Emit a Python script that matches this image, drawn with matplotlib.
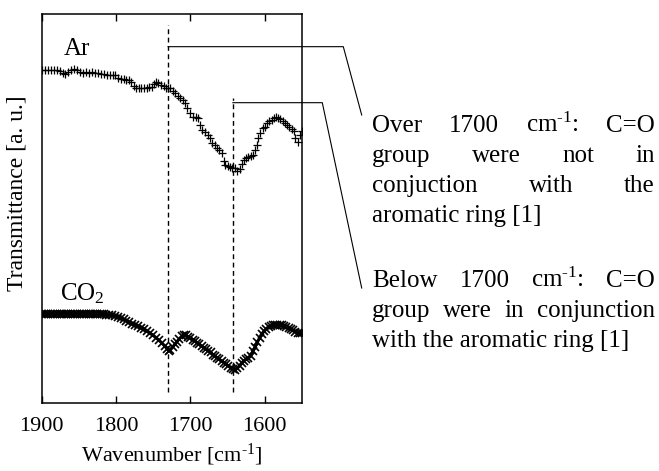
import matplotlib
matplotlib.use("Agg")
from matplotlib import pyplot as plt
from matplotlib.lines import Line2D

plt.rcParams['font.family'] = ['Liberation Serif', 'DejaVu Serif']
plt.rcParams['mathtext.fontset'] = 'custom'
plt.rcParams['mathtext.rm'] = 'Liberation Serif'
plt.rcParams['mathtext.it'] = 'Liberation Serif:italic'

# FTIR spectra (transmittance, arbitrary units, curves offset)
ar_wn = [1900, 1896, 1892, 1888, 1884, 1880, 1875, 1871, 1868, 1864, 1860, 1856, 1852,
         1848, 1844, 1840, 1836, 1832, 1828, 1824, 1820, 1816, 1812, 1808, 1804, 1801,
         1797, 1793, 1790, 1786, 1783, 1780, 1776, 1773, 1769, 1766, 1762, 1759, 1756,
         1752, 1749, 1746, 1743, 1740, 1736, 1733, 1730, 1727, 1724, 1721, 1717, 1714,
         1710, 1707, 1704, 1700, 1697, 1693, 1690, 1687, 1684, 1681, 1677, 1674, 1671,
         1667, 1664, 1661, 1657, 1655, 1653, 1650, 1647, 1644, 1640, 1637, 1634, 1631,
         1628, 1625, 1622, 1619, 1616, 1613, 1611, 1609, 1606, 1603, 1600, 1597, 1594,
         1591, 1588, 1585, 1582, 1579, 1576, 1573, 1570, 1567, 1564, 1561, 1559, 1556,
         1553, 1550]
ar_t = [85.6, 85.6, 85.7, 85.6, 85.5, 85.6, 85.4, 84.9, 84.7, 85.2, 85.7, 85.9, 85.6,
        85.1, 84.8, 85.0, 84.9, 85.0, 84.8, 84.9, 84.7, 84.5, 84.4, 84.3, 84.3, 84.2,
        83.6, 83.4, 83.3, 83.1, 83.0, 82.4, 81.5, 81.0, 80.9, 81.0, 81.1, 81.1, 81.2,
        81.3, 81.9, 82.6, 82.3, 81.8, 81.5, 81.0, 81.1, 80.9, 80.3, 79.7, 79.0, 78.4,
        77.8, 77.1, 75.9, 74.6, 73.5, 73.6, 73.3, 71.4, 70.2, 69.6, 68.9, 68.0, 66.9,
        66.2, 65.6, 65.0, 64.3, 62.3, 61.2, 61.0, 60.7, 60.5, 60.4, 59.6, 60.2, 61.4,
        62.5, 62.9, 63.2, 63.5, 63.8, 65.0, 66.3, 68.2, 69.4, 70.6, 71.0, 71.9, 72.4,
        72.8, 73.3, 73.5, 73.3, 73.1, 72.6, 72.0, 71.5, 71.0, 70.5, 69.8, 68.2, 67.1,
        68.9, 69.9]

co2_wn = [1900, 1897, 1894, 1891, 1888, 1885, 1882, 1879, 1876, 1873, 1870, 1867, 1864,
          1861, 1858, 1855, 1852, 1849, 1846, 1843, 1840, 1837, 1834, 1831, 1828, 1825,
          1822, 1819, 1816, 1813, 1810, 1806, 1802, 1798, 1794, 1790, 1786, 1782, 1778,
          1774, 1770, 1766, 1762, 1758, 1754, 1750, 1746, 1742, 1738, 1734, 1731, 1729,
          1727, 1724, 1721, 1718, 1715, 1712, 1709, 1706, 1703, 1700, 1697, 1694, 1691,
          1688, 1685, 1682, 1679, 1676, 1673, 1670, 1667, 1664, 1661, 1658, 1655, 1652,
          1649, 1646, 1643, 1640, 1637, 1634, 1631, 1628, 1625, 1622, 1619, 1616, 1613,
          1610, 1607, 1604, 1601, 1598, 1595, 1592, 1589, 1586, 1583, 1580, 1577, 1574,
          1571, 1568, 1565, 1562, 1559, 1556, 1553, 1550]
co2_t = [22.9, 22.9, 22.9, 22.9, 22.9, 22.9, 22.9, 22.9, 22.9, 22.9, 22.9, 22.9, 22.9,
         22.9, 22.9, 22.9, 22.9, 22.9, 22.9, 22.9, 22.9, 22.9, 22.9, 22.9, 22.9, 22.9,
         22.9, 22.9, 22.8, 22.7, 22.6, 22.5, 22.4, 22.2, 21.9, 21.5, 21.1, 20.7, 20.4,
         20.1, 19.7, 19.3, 18.9, 18.4, 17.9, 17.4, 16.7, 16.1, 15.3, 14.6, 13.8, 13.4,
         13.7, 14.3, 15.1, 15.8, 16.5, 17.1, 17.5, 17.4, 17.0, 16.7, 16.3, 15.9, 15.5,
         15.1, 14.6, 14.2, 13.8, 13.4, 13.0, 12.4, 12.0, 11.6, 11.2, 10.8, 10.4, 10.0,
         9.5, 9.1, 8.7, 8.5, 8.9, 9.6, 10.3, 10.9, 11.3, 11.6, 12.0, 13.3, 14.4,
         15.7, 16.7, 17.7, 18.5, 19.1, 19.6, 19.9, 20.1, 20.1, 20.1, 20.1, 20.0, 19.8,
         19.5, 19.3, 19.0, 18.7, 18.3, 18.0, 18.0, 18.0]

peaks = [1730, 1643]
peak_tops = [97.2, 78.4]
leader_y = [91.6, 77.2]
xticks = [1900, 1800, 1700, 1600]

CM = "cm$^{\\mathregular{\u20101}}$"
notes = [
    [["Over", "1700", CM + ":", "C=O"],
     ["group", "were", "not", "in"],
     ["conjuction", "with", "the"],
     ["aromatic ring [1]"]],
    [["Below", "1700", CM + ":", "C=O"],
     ["group", "were", "in", "conjunction"],
     ["with the aromatic ring [1]"]],
]

W, H = 659, 471
fig = plt.figure(figsize=(W / 100, H / 100), dpi=100)
ax = fig.add_axes([41.7 / W, 1 - 403 / H, (302 - 41.7) / W, (403 - 14) / H])

ax.plot(ar_wn, ar_t, linestyle='none', marker='+', ms=6, mew=0.9, color='black')
ax.plot(co2_wn, co2_t, color='black', lw=2.2)
ax.plot(co2_wn, co2_t, linestyle='none', marker='x', ms=5.5, mew=1.2, color='black')

for xp, top in zip(peaks, peak_tops):
    ax.plot([xp, xp], [2.8, top], color='black', lw=1, linestyle=(0, (3.5, 2.5)))

ax.text(1871, 89.5, "Ar", fontsize=18)
ax.text(1875, 26.5, "CO$_\\mathregular{2}$", fontsize=18)

ax.set_xlim(1900, 1550)
ax.set_ylim(0, 100)
ax.set_xticks(xticks)
ax.set_yticks([])
ax.tick_params(axis='x', direction='in', top=True, length=5, width=1,
               labelsize=16, pad=10)
ax.set_xlabel("Wavenumber [" + CM + "]", fontsize=16)
ax.xaxis.set_label_coords(0.5, -0.1)
ax.set_ylabel("Transmittance [a. u.]", fontsize=17)
ax.yaxis.set_label_coords(-0.056, 0.54)
for s in ax.spines.values():
    s.set_linewidth(1.1)

# leader lines from the dashed markers to the notes
to_fig = fig.transFigure.inverted()
bends = [(343.3, 115), (322.3, 288)]
for xp, ly, (bx, ey) in zip(peaks, leader_y, bends):
    sx, sy = to_fig.transform(ax.transData.transform((xp, ly)))
    fig.add_artist(Line2D([sx, bx / W, 361.7 / W], [sy, sy, 1 - ey / H],
                          color='black', lw=0.8, transform=fig.transFigure))

# justified note text
renderer = fig.canvas.get_renderer()
x_left, x_right = 372, 655
baselines = [[132, 162, 192, 222], [287, 317, 347]]
for para, ys in zip(notes, baselines):
    for words, yb in zip(para, ys):
        txts = [fig.text(0, 1 - yb / H, w, fontsize=18, va='baseline') for w in words]
        widths = [t.get_window_extent(renderer).width for t in txts]
        if len(words) > 1:
            gap = (x_right - x_left - sum(widths)) / (len(words) - 1)
        else:
            gap = 0
        xpos = x_left
        for t, w in zip(txts, widths):
            t.set_x(xpos / W)
            xpos += w + gap

fig.savefig("out.png", dpi=100)
plt.close(fig)
